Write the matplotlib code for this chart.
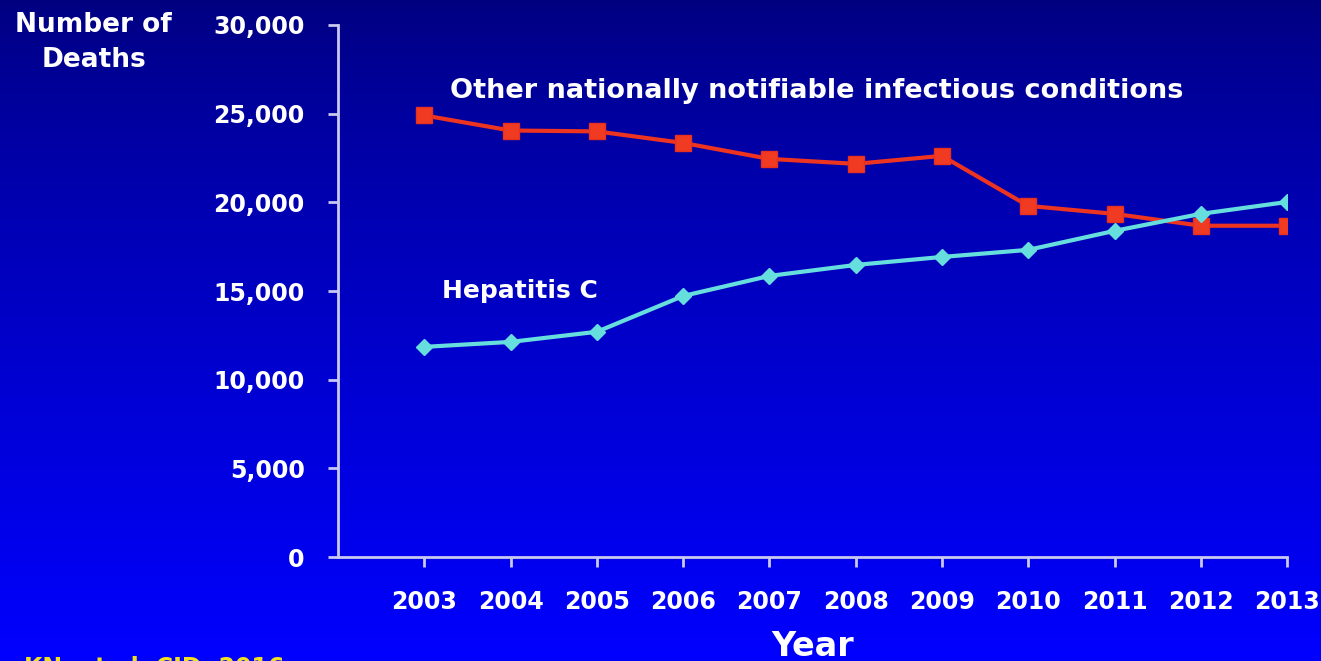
# Deaths: Hepatitis C vs other nationally notifiable infectious conditions

import numpy as np
import matplotlib.pyplot as plt

years = [2003, 2004, 2005, 2006, 2007, 2008, 2009, 2010, 2011, 2012, 2013]
other = [24900, 24050, 24000, 23350, 22450, 22170, 22620, 19800, 19350, 18680, 18680]
hepc = [11850, 12130, 12700, 14720, 15850, 16470, 16920, 17320, 18390, 19350, 20020]
yticks = [0, 5000, 10000, 15000, 20000, 25000, 30000]

plt.rcParams['font.family'] = ['DejaVu Sans']
fg = '#ffffff'
axc = '#c8c8f0'

fig = plt.figure(figsize=(13.21, 6.61), dpi=100)

# background gradient, dark navy at top to bright blue at bottom
bg = fig.add_axes([0, 0, 1, 1], zorder=-10)
grad = np.linspace(0, 1, 256).reshape(-1, 1)
cols = np.zeros((256, 1, 3))
cols[:, 0, 2] = 0.50 + 0.50 * grad[:, 0] ** 0.8
bg.imshow(cols, aspect='auto', extent=[0, 1, 0, 1], origin='upper')
bg.axis('off')

ax = fig.add_axes([0.2559, 0.1573, 0.7184, 0.8049])
ax.patch.set_alpha(0)

ax.plot(years, other, color='#ec3420', lw=3, marker='s', ms=12,
        markerfacecolor='#f03a22', markeredgecolor='#e83020', zorder=3)
ax.plot(years, hepc, color='#66dede', lw=3, marker='D', ms=8,
        markerfacecolor='#66dede', markeredgecolor='#66dede', zorder=4)

ax.set_xlim(2002, 2013)
ax.set_ylim(0, 30000)
ax.set_xticks(years)
ax.set_xticklabels([str(y) for y in years])
ax.set_yticks(yticks)
ax.set_yticklabels([f'{v:,}' for v in yticks])

for s in ['top', 'right']:
    ax.spines[s].set_visible(False)
for s in ['left', 'bottom']:
    ax.spines[s].set_color(axc)
    ax.spines[s].set_linewidth(2)
ax.tick_params(axis='both', colors=axc, width=2, length=7, direction='out')
ax.tick_params(axis='x', labelsize=17, labelcolor=fg, pad=17)
ax.tick_params(axis='y', labelsize=17, labelcolor=fg, pad=17)
for t in ax.get_xticklabels() + ax.get_yticklabels():
    t.set_fontweight('bold')

ax.text(2003.3, 26300, 'Other nationally notifiable infectious conditions',
        color=fg, fontsize=19.5, fontweight='bold', va='center', ha='left')
ax.text(2003.2, 15000, 'Hepatitis C', color=fg, fontsize=18,
        fontweight='bold', va='center', ha='left')

fig.text(0.071, 0.935, 'Number of\nDeaths', color=fg, fontsize=19,
         fontweight='bold', ha='center', va='center', linespacing=1.45)
fig.text(0.615, 0.022, 'Year', color=fg, fontsize=24, fontweight='bold',
         ha='center', va='center')
fig.text(-0.01, 0.008, 'Ly KN, et al. CID. 2016', color='#f0e020',
         fontsize=17, fontweight='bold', ha='left', va='top')

plt.savefig('out.png', dpi=100)
